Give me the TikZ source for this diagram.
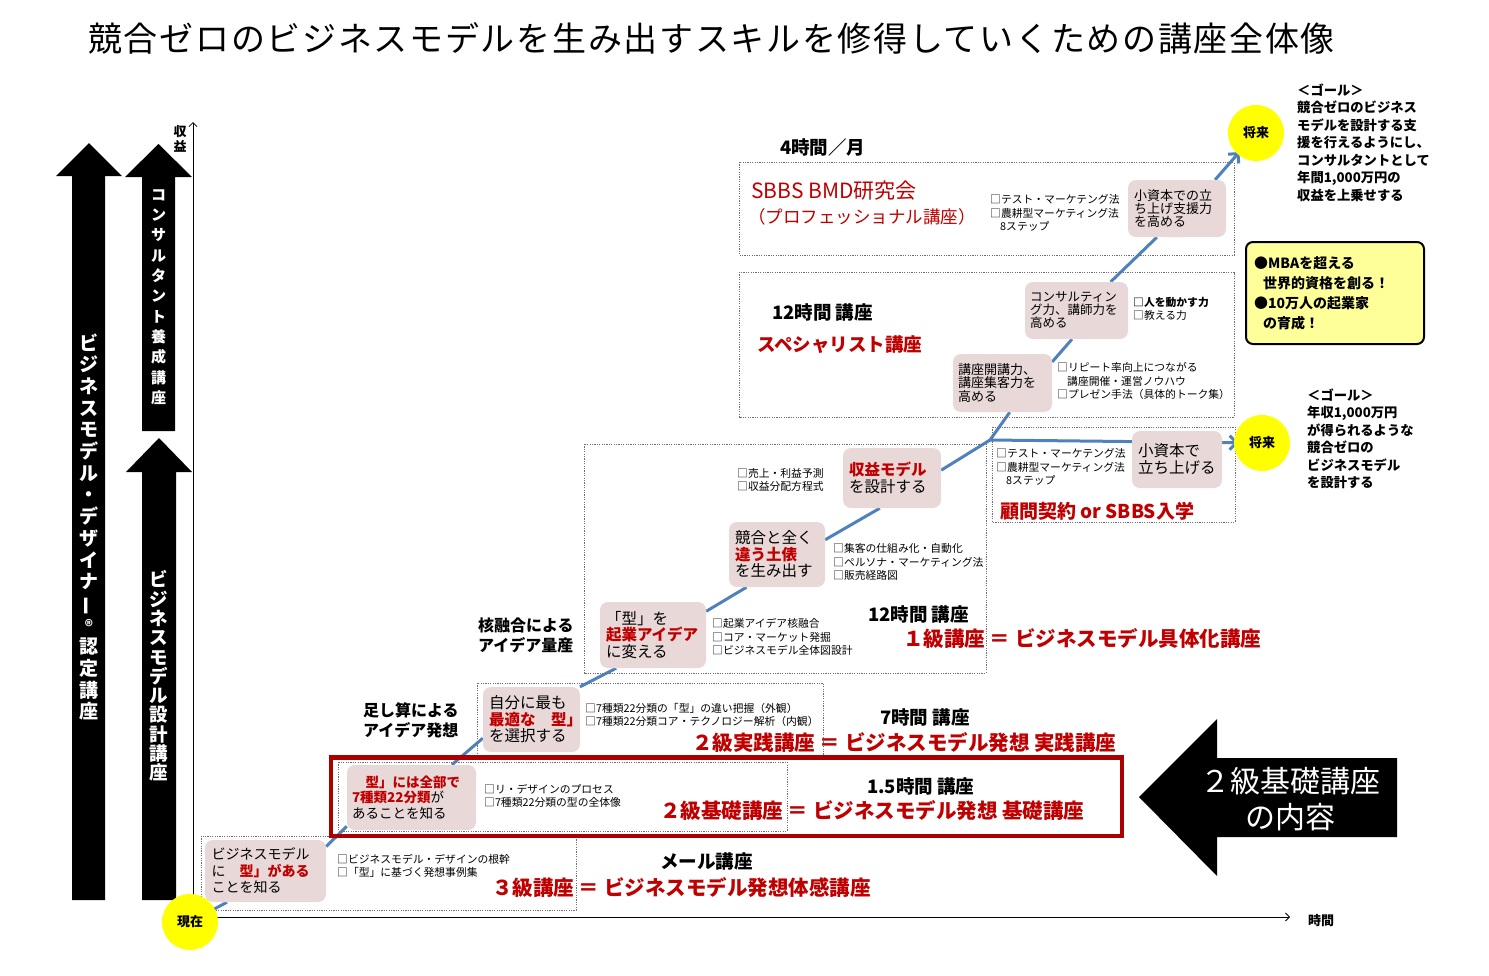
\documentclass[tikz,border=0pt]{standalone}
\usepackage{fontspec}
\setmainfont{Noto Sans CJK JP}
\usepackage{graphicx}
\usetikzlibrary{arrows.meta}
\definecolor{myred}{RGB}{192,0,0}
\definecolor{rectred}{RGB}{170,0,0}
\definecolor{pinkfill}{RGB}{232,216,216}
\definecolor{lineblue}{RGB}{79,129,189}
\definecolor{dotgray}{RGB}{110,110,110}
\definecolor{sunyellow}{RGB}{255,255,0}
\definecolor{glowc}{RGB}{200,200,120}
\definecolor{noteyellow}{RGB}{255,255,153}
\pgfdeclareradialshading{glowshade}{\pgfpoint{0bp}{0bp}}{color(0bp)=(sunyellow); color(36bp)=(sunyellow); color(41bp)=(glowc); color(50bp)=(white)}
\pgfdeclarelayer{bg}
\pgfsetlayers{bg,main}
\newcommand\fsz[2]{\fontsize{#1}{#2}\selectfont}
\newcommand\rd[1]{\textcolor{myred}{\bfseries #1}}
\tikzset{
 dotbox/.style={draw=dotgray, line width=0.8pt, dash pattern=on 1.2pt off 1.2pt},
 pbox/.style={fill=pinkfill, rounded corners=8pt, inner sep=0pt, align=left},
 chk/.style={anchor=west, inner sep=0pt, align=left, font=\fsz{10.8}{13.5}},
 redbig/.style={anchor=west, inner sep=0pt, text=myred, font=\fsz{20.5}{24}\bfseries},
 hd/.style={anchor=west, inner sep=0pt, font=\fsz{18.5}{22}\bfseries},
 redhd/.style={anchor=west, inner sep=0pt, text=myred},
 sidelbl/.style={anchor=west, inner sep=0pt, align=left, font=\fsz{16}{20}\bfseries},
 goal/.style={anchor=west, inner sep=0pt, align=left, font=\fsz{13.3}{17.5}\bfseries},
 sun/.style={circle, inner sep=0pt, minimum size=46pt, font=\fsz{13}{13}\bfseries},
 vtxt/.style={align=center, text=white, inner sep=0pt},
 blueline/.style={draw=lineblue, line width=3pt},
 axis/.style={line width=0.8pt, -{Straight Barb[length=4pt,width=8pt]}},
 bluetip/.style={-{Straight Barb[length=7pt,width=14pt,line width=3pt]}}
}
\begin{document}
\begin{tikzpicture}[x=1pt,y=-1pt]
\useasboundingbox (0,0) rectangle (1489,975);
\begin{pgfonlayer}{bg}
\fill[white] (0,0) rectangle (1489,975);
\end{pgfonlayer}

% title
\node[anchor=west,inner sep=0pt,font=\fsz{34}{34}\addfontfeatures{LetterSpace=5}] (title) at (88,38) {競合ゼロのビジネスモデルを生み出すスキルを修得していくための講座全体像};

% left vertical arrows
\fill[black] (72,900) -- (72,176) -- (56,176) -- (89,143) -- (122,176) -- (105,176) -- (105,900) -- cycle;
\fill[black] (142,431) -- (142,177) -- (125,177) -- (158.5,144) -- (192,177) -- (175,177) -- (175,431) -- cycle;
\fill[black] (142,900) -- (142,472) -- (126,472) -- (159,438) -- (192,472) -- (176,472) -- (176,900) -- cycle;
\node[vtxt, font=\fsz{19}{21.7}\bfseries] (v1) at (89,527) {ビ\\ジ\\ネ\\ス\\モ\\デ\\ル\\・\\デ\\ザ\\イ\\ナ\\\rotatebox[origin=c]{90}{ー}\\{\fsz{16}{16}®}\\認\\定\\講\\座};
\node[vtxt, font=\fsz{15}{20.3}\bfseries] (v2) at (158.5,297) {コ\\ン\\サ\\ル\\タ\\ン\\ト\\養\\成\\講\\座};
\node[vtxt, font=\fsz{18.5}{19.3}\bfseries] (v3) at (159,676) {ビ\\ジ\\ネ\\ス\\モ\\デ\\ル\\設\\計\\講\\座};

% axes
\coordinate (origin) at (193,917);
\coordinate (ytop) at (193,122);
\coordinate (xend) at (1290,917);
\draw[axis] (origin) -- (ytop);
\draw[axis] (origin) -- (xend);
\node[align=center, inner sep=0pt, font=\fsz{13}{15}\bfseries] (shueki) at (180,139) {収\\益};
\node[anchor=west, inner sep=0pt, font=\fsz{13}{13}\bfseries] (jikan) at (1308,921) {時間};

% dotted boxes
\draw[dotbox] (739,162) rectangle (1234,255);
\draw[dotbox] (739,272) rectangle (1234,417);
\draw[dotbox] (992,427) rectangle (1235,522);
\draw[dotbox] (584,444) rectangle (986,673);
\draw[dotbox] (477,683) rectangle (823,757);
\draw[dotbox] (338,762) rectangle (787,831);
\draw[dotbox] (201,836) rectangle (576,910);

% red frame
\draw[draw=rectred, line width=4.5pt] (331,757.5) rectangle (1122,836);

% pink boxes
\node[pbox, minimum width=121pt, minimum height=62pt, text width=108pt, font=\fsz{14}{16.5}] (b1) at (265.5,871) {ビジネスモデル\\に\phantom{「}\rd{型」がある}\\ことを知る};
\node[pbox, minimum width=129pt, minimum height=65pt, text width=119pt, font=\fsz{13.5}{15.5}] (b2) at (411.5,797.5) {\rd{\phantom{「}型」には全部で}\\\rd{7種類22分類}が\\あることを知る};
\node[pbox, minimum width=97pt, minimum height=65pt, text width=85pt, font=\fsz{15.5}{16.5}] (b3) at (531.5,719.5) {自分に最も\\\rd{最適な\phantom{「}型」}\\を選択する};
\node[pbox, minimum width=106pt, minimum height=66pt, text width=94pt, font=\fsz{15.5}{16.5}] (b4) at (653,635) {「型」を\\\rd{起業アイデア}\\に変える};
\node[pbox, minimum width=96pt, minimum height=65pt, text width=84pt, font=\fsz{15.5}{16.5}] (b5) at (777,554.5) {競合と全く\\\rd{違う土俵}\\を生み出す};
\node[pbox, minimum width=98pt, minimum height=60pt, text width=86pt, font=\fsz{15.5}{17}] (b6) at (892,478) {\rd{収益モデル}\\を設計する};
\node[pbox, minimum width=99pt, minimum height=58pt, text width=89pt, font=\fsz{13}{13.5}] (b7) at (1002.5,383) {講座開講力、\\講座集客力を\\高める};
\node[pbox, minimum width=103pt, minimum height=57pt, text width=93pt, font=\fsz{12.5}{13}] (b8) at (1076.5,310.5) {コンサルティン\\グ力、講師力を\\高める};
\node[pbox, minimum width=98pt, minimum height=57pt, text width=86pt, font=\fsz{13}{13}] (b9) at (1177,208.5) {小資本での立\\ち上げ支援力\\を高める};
\node[pbox, minimum width=90pt, minimum height=57pt, text width=78pt, font=\fsz{15.5}{17}] (b10) at (1177,459.5) {小資本で\\立ち上げる};

% check lists
\node[chk] (c1) at (990,213) {□テスト・マーケテング法\\□農耕型マーケティング法\\\hspace*{10pt}8ステップ};
\node[chk] (c2) at (1133,309) {{\bfseries □人を動かす力}\\□教える力};
\node[chk] (c3) at (1057,381) {□リピート率向上につながる\\\hspace*{10pt}講座開催・運営ノウハウ\\□プレゼン手法（具体的トーク集）};
\node[chk] (c4) at (996,467) {□テスト・マーケテング法\\□農耕型マーケティング法\\\hspace*{10pt}8ステップ};
\node[chk] (c5) at (737,480) {□売上・利益予測\\□収益分配方程式};
\node[chk] (c6) at (833,562) {□集客の仕組み化・自動化\\□ペルソナ・マーケティング法\\□販売経路図};
\node[chk] (c7) at (712,637) {□起業アイデア核融合\\□コア・マーケット発掘\\□ビジネスモデル全体図設計};
\node[chk] (c8) at (585,715) {□7種類22分類の「型」の違い把握（外観）\\□7種類22分類コア・テクノロジー解析（内観）};
\node[chk] (c9) at (484,796) {□リ・デザインのプロセス\\□7種類22分類の型の全体像};
\node[chk] (c10) at (337,866) {□ビジネスモデル・デザインの根幹\\□「型」に基づく発想事例集};

% course titles
\node[redbig] (r1) at (903,638) {１級講座 ＝ ビジネスモデル具体化講座};
\node[redbig] (r2) at (692,743) {２級実践講座 ＝ ビジネスモデル発想 実践講座};
\node[redbig] (r3) at (660,811) {２級基礎講座 ＝ ビジネスモデル発想 基礎講座};
\node[redbig] (r4) at (492,888) {３級講座 ＝ ビジネスモデル発想体感講座};
\node[hd] (h1) at (868,614) {12時間 講座};
\node[hd] (h2) at (880,717) {7時間 講座};
\node[hd] (h3) at (867,786) {1.5時間 講座};
\node[hd] (h4) at (660,861) {メール講座};
\node[hd] (h5) at (772,312) {12時間 講座};
\node[hd] (h6) at (780,147) {4時間／月};
\node[redhd, font=\fsz{21}{24}] (s1) at (751,191) {SBBS BMD研究会};
\node[redhd, font=\fsz{17.5}{20}] (s2) at (748,217) {（プロフェッショナル講座）};
\node[redhd, font=\fsz{18.5}{21}\bfseries] (s3) at (757,345) {スペシャリスト講座};
\node[redhd, font=\fsz{19}{22}\bfseries] (s4) at (1000,511) {顧問契約 or SBBS入学};
\node[sidelbl] (l1) at (478,635) {核融合による\\アイデア量産};
\node[sidelbl] (l2) at (363,720.5) {足し算による\\アイデア発想};

% goals
\node[goal] (g1) at (1297,142.5) {＜ゴール＞\\競合ゼロのビジネス\\モデルを設計する支\\援を行えるようにし、\\コンサルタントとして\\年間1,000万円の\\収益を上乗せする};
\node[goal] (g2) at (1307,439) {＜ゴール＞\\年収1,000万円\\が得られるような\\競合ゼロの\\ビジネスモデル\\を設計する};
\node[draw=black, line width=2pt, fill=noteyellow, rounded corners=7pt, minimum width=178pt, minimum height=102pt, text width=162pt, align=left, inner sep=0pt, font=\fsz{14}{20}\bfseries] (note) at (1335,293) {●MBAを超える\\\hspace*{9pt}世界的資格を創る！\\●10万人の起業家\\\hspace*{9pt}の育成！};

% big left arrow
\fill[black] (1139,797) -- (1217,719) -- (1217,758) -- (1397,758) -- (1397,837) -- (1217,837) -- (1217,876) -- cycle;
\node[align=center, text=white, inner sep=0pt, font=\fsz{30}{36}] (naiyou) at (1290,799) {２級基礎講座\\の内容};

% suns
\coordinate (J) at (990,440);
\shade[shading=glowshade] (1256,133) circle (28pt);
\node[sun] (f1) at (1256,133) {将来};
\shade[shading=glowshade] (1262,443) circle (28pt);
\node[sun] (f2) at (1262,443) {将来};
\shade[shading=glowshade] (190,922) circle (28pt);
\node[sun] (now) at (190,922) {現在};

% blue staircase line
\begin{pgfonlayer}{bg}
\draw[blueline] (now) -- (b1.219);
\draw[blueline] (b1.22) -- (b2.204);
\draw[blueline] (b2.39) -- (b3.201);
\draw[blueline] (b3.34) -- (b4.222);
\draw[blueline] (b4.24) -- (b5.227);
\draw[blueline] (b5.17) -- (b6.248);
\draw[blueline] (b6.9) -- (J);
\draw[blueline] (J) -- (b7.284);
\draw[blueline] (b7.23) -- (b8.261);
\draw[blueline] (b8.40) -- (b9.235);
\draw[blueline, bluetip, shorten >=2pt] (b9.37) -- (f1);
\draw[blueline, bluetip] (J) -- (f2);
\end{pgfonlayer}
\end{tikzpicture}
\end{document}
